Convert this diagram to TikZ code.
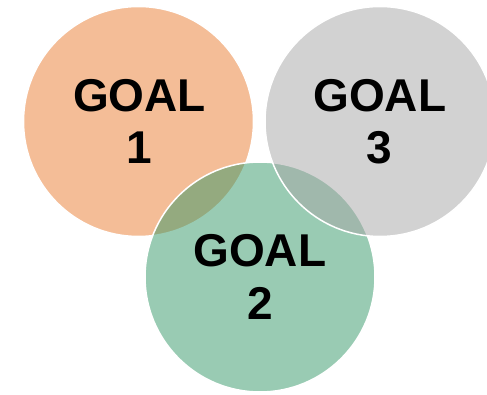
\documentclass[tikz,border=0pt]{standalone}
\usepackage{fontspec}
\setmainfont{Liberation Sans}
\definecolor{goalorange}{RGB}{235,125,49}
\definecolor{goalgreen}{RGB}{53,153,105}
\definecolor{goalgray}{RGB}{167,167,167}
\begin{document}
\begin{tikzpicture}[x=1pt,y=-1pt,
  venn/.style={draw=white,line width=1.5pt,fill opacity=0.5},
  goaltext/.style={anchor=base,inner sep=0pt,font=\bfseries\fontsize{46}{52}\selectfont,text=black}]
\useasboundingbox (0,0) rectangle (487,395);
\fill[white] (0,0) rectangle (487,395);
\begin{scope}
\clip (0,0) rectangle (487,395);
\path[venn,fill=goalorange] (138.5,121.5) circle[radius=115];
\path[venn,fill=goalgreen] (260,277) circle[radius=115];
\path[venn,fill=goalgray] (380,121.5) circle[radius=115];
\end{scope}
\node[goaltext] (g1a) at (139.5,111.5) {GOAL};
\node[goaltext] (g1b) at (139.5,163.5) {1};
\node[goaltext] (g2a) at (259.8,267) {GOAL};
\node[goaltext] (g2b) at (259.8,319) {2};
\node[goaltext] (g3a) at (379.7,111.5) {GOAL};
\node[goaltext] (g3b) at (379.7,163.5) {3};
\end{tikzpicture}
\end{document}
